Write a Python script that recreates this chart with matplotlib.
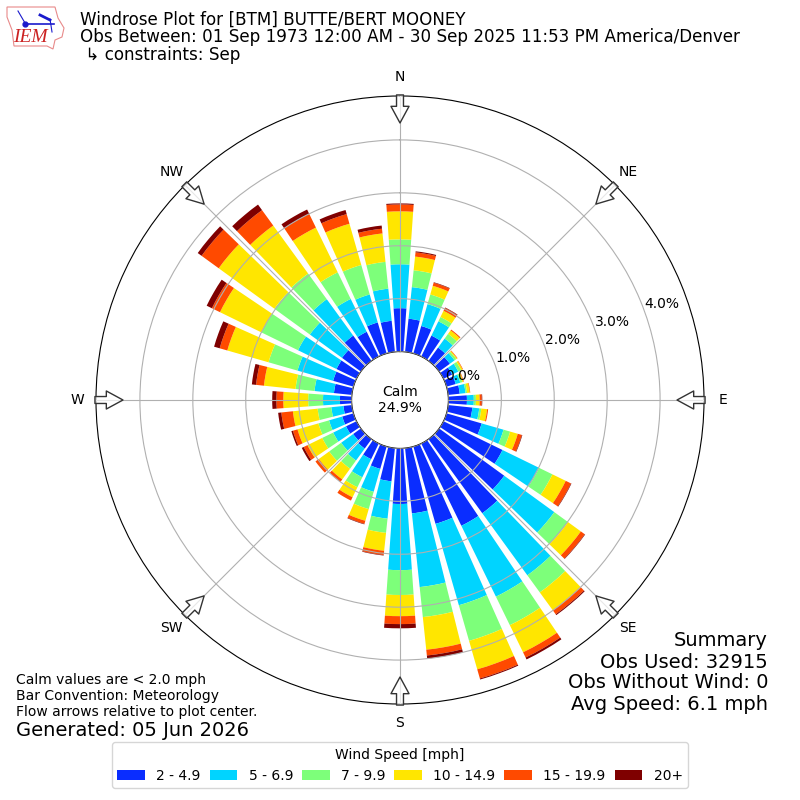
import numpy as np
import matplotlib
matplotlib.use("Agg")
import matplotlib.pyplot as plt
from matplotlib.patches import Polygon

# direction of each bar, degrees
directions = list(range(0, 360, 10))

# percent of obs per speed bin, one value per direction
speed_2_5 = [.82, .63, .54, .44, .31, .25, .18, .18, .22, .35, .46, .69, 1.24, 1.52, 1.73, 1.73, 1.52, 1.24,
             1.05, .63, .44, .33, .22, .18, .22, .22, .16, .22, .34, .40, .42, .44, .59, .52, .61, .59]
speed_5_7 = [.83, .60, .43, .30, .21, .11, .13, .09, .11, .13, .13, .43, .77, 1.17, 1.45, 1.49, 1.60, 1.40,
             1.25, .71, .45, .38, .28, .28, .27, .26, .23, .32, .37, .70, .81, .75, .85, .69, .55, .61]
speed_7_10 = [.47, .32, .19, .09, .11, .04, .06, .04, .03, .04, .04, .13, .28, .32, .40, .60, .70, .57,
              .47, .27, .34, .21, .19, .28, .23, .21, .26, .28, .36, .57, .77, .83, .60, .56, .58, .51]
speed_10_15 = [.53, .26, .17, .13, .08, .02, .03, .02, .05, .07, .11, .15, .28, .30, .42, .57, .56, .62,
               .40, .34, .23, .21, .25, .24, .31, .41, .47, .47, .60, .81, .87, 1.30, 1.12, .94, .81, .54]
speed_15_20 = [.13, .08, .06, .06, .02, .01, .01, .01, .01, .04, .02, .08, .11, .09, .09, .11, .18, .11,
               .15, .08, .06, .07, .06, .08, .08, .09, .22, .13, .15, .15, .17, .40, .36, .29, .19, .09]
speed_20 = [.02, .02, .01, .01, 0, 0, 0, 0, 0, .01, 0, .01, .01, .01, .02, .04, .02, .06,
            .08, .01, .01, 0, 0, 0, .04, .03, .06, .08, .08, .11, .11, .09, .13, .09, .08, .06]

bins = [speed_2_5, speed_5_7, speed_7_10, speed_10_15, speed_15_20, speed_20]
bin_labels = ["2 - 4.9", "5 - 6.9", "7 - 9.9", "10 - 14.9", "15 - 19.9", "20+"]
bin_colors = ["#0a2dff", "#00d4ff", "#7dff7a", "#ffe600", "#ff4a00", "#7f0000"]

compass = ["N", "NE", "E", "SE", "S", "SW", "W", "NW"]
compass_deg = [0, 45, 90, 135, 180, 225, 270, 315]
radial_ticks = [0, 1, 2, 3, 4]

fig = plt.figure(figsize=(8, 8), dpi=100)
ax = fig.add_axes([0.12, 0.12, 0.76, 0.76], projection="polar")
ax.set_theta_zero_location("N")
ax.set_theta_direction(-1)

# stacked bars
theta = np.radians(directions)
bottom = np.zeros(len(directions))
for values, label, color in zip(bins, bin_labels, bin_colors):
    ax.bar(theta, values, width=np.radians(8), bottom=bottom, color=color, label=label, linewidth=0)
    bottom += np.array(values)

ax.set_rorigin(-0.915)
ax.set_rmin(0)
ax.set_rmax(4.83)
ax.set_rticks(radial_ticks)
ax.set_yticklabels(["%.1f%%" % t for t in radial_ticks])
ax.set_rlabel_position(70)
ax.set_thetagrids(compass_deg, compass)
ax.tick_params(axis="x", pad=3)
ax.set_axisbelow(False)
ax.grid(True, color="#b0b0b0", linewidth=0.8)

# flow arrows on the rim
for deg in compass_deg:
    ax.annotate(
        "",
        xy=(np.radians(deg), 4.32),
        xytext=(np.radians(deg), 4.85),
        annotation_clip=False,
        arrowprops=dict(width=5, headwidth=13, headlength=12, shrink=0,
                        facecolor=(1, 1, 1, 0.7), edgecolor="#333333", linewidth=1),
    )

ax.text(0, -0.915, "Calm\n24.9%", ha="center", va="center", fontsize=10)

# titles
fig.text(80 / 800, 1 - 20 / 800, "Windrose Plot for [BTM] BUTTE/BERT MOONEY", fontsize=12.05, va="center")
fig.text(80 / 800, 1 - 37 / 800, "Obs Between: 01 Sep 1973 12:00 AM - 30 Sep 2025 11:53 PM America/Denver",
         fontsize=12.05, va="center")
fig.text(80 / 800, 1 - 55 / 800, " \u21b3 constraints: Sep", fontsize=12.05, va="center")

# notes, lower left
fig.text(16 / 800, 1 - 680 / 800, "Calm values are < 2.0 mph", fontsize=10, va="center")
fig.text(16 / 800, 1 - 696 / 800, "Bar Convention: Meteorology", fontsize=10, va="center")
fig.text(16 / 800, 1 - 712 / 800, "Flow arrows relative to plot center.", fontsize=10, va="center")
fig.text(16 / 800, 1 - 730 / 800, "Generated: 05 Jun 2026", fontsize=14, va="center")

# summary, lower right
fig.text(768 / 800, 1 - 640 / 800, "Summary", fontsize=14, ha="right", va="center")
fig.text(768 / 800, 1 - 662 / 800, "Obs Used: 32915", fontsize=14, ha="right", va="center")
fig.text(768 / 800, 1 - 683 / 800, "Obs Without Wind: 0", fontsize=14, ha="right", va="center")
fig.text(768 / 800, 1 - 705 / 800, "Avg Speed: 6.1 mph", fontsize=14, ha="right", va="center")

fig.legend(loc="lower center", bbox_to_anchor=(0.5, 0.006), ncol=6, title="Wind Speed [mph]", fontsize=10,
           columnspacing=0.65)

# IEM logo, drawn in pixel coordinates
logo = fig.add_axes([0, 1 - 55 / 800, 70 / 800, 55 / 800])
logo.set_xlim(0, 70)
logo.set_ylim(55, 0)
logo.axis("off")
outline = [(7, 7), (55, 7), (58, 18), (64, 28), (62, 37), (55, 40), (53, 49), (47, 46), (14, 46), (12, 30), (7, 17)]
logo.add_patch(Polygon(outline, closed=True, fill=False, edgecolor="#e88a8a", linewidth=0.8))
logo.plot([25, 54], [24, 24], color="#1a1acc", linewidth=1.2)
logo.plot([18, 25], [11, 23], color="#1a1acc", linewidth=0.8)
logo.plot([40, 50], [15, 20], color="#1a1acc", linewidth=2)
logo.plot([50, 52], [19, 32], color="#1a1acc", linewidth=0.8)
logo.plot([25], [24], "o", color="#1a1acc", markersize=3.5)
logo.text(30, 38, "IEM", color="#cc2222", fontsize=14, family="Liberation Serif", style="italic", ha="center", va="center")

fig.savefig("out.png", dpi=100)
